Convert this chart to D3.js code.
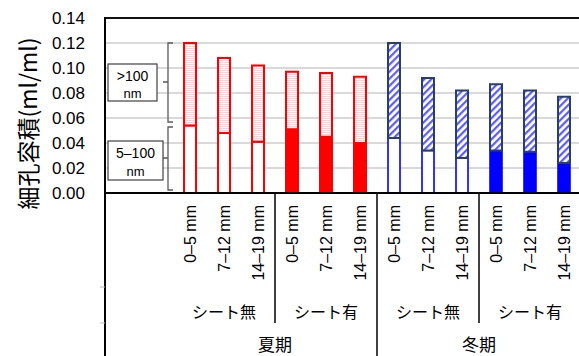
<!DOCTYPE html>
<html><head><meta charset="utf-8">
<script src="https://cdn.jsdelivr.net/npm/d3@7"></script>
<style>body{margin:0;background:#fff}svg{display:block}</style>
</head><body>
<svg id="c" width="579" height="356"></svg>
<script>
// ---- data ----
const depths = ["0–5 mm", "7–12 mm", "14–19 mm"];
const sheets = ["シート無", "シート有"];
const seasons = ["夏期", "冬期"];
const fine   = [0.054, 0.048, 0.041, 0.051, 0.045, 0.040, 0.044, 0.034, 0.028, 0.034, 0.033, 0.024]; // 5–100 nm
const coarse = [0.066, 0.060, 0.061, 0.046, 0.051, 0.053, 0.076, 0.058, 0.054, 0.053, 0.049, 0.053]; // >100 nm
const yTicks = [0, 0.02, 0.04, 0.06, 0.08, 0.10, 0.12, 0.14];
const yTitle = "細孔容積(ml/ml)";
const boxLabels = [[">100", "nm"], ["5–100", "nm"]];

// build bar records
const bars = [];
seasons.forEach((s, si) => sheets.forEach((sh, hi) => depths.forEach((d, di) => {
  const i = bars.length;
  bars.push({id: "b" + i, season: s, si, sheet: sh, hi, depth: d, fine: fine[i], coarse: coarse[i]});
})));
const cats = ["_blank0", "_blank1"].concat(bars.map(b => b.id));

const svg = d3.select("#c");
const L = 105, T = 18, B = 193;
const x = d3.scaleBand().domain(cats).range([L, L + 34 * cats.length]).padding(0);
const y = d3.scaleLinear().domain([0, 0.14]).range([B, T]);
const bw = x.bandwidth();

const latin = "'Liberation Sans', Arial, sans-serif";
const cjk = "'Noto Sans CJK JP', sans-serif";

// patterns
const defs = svg.append("defs");
const ph = defs.append("pattern").attr("id", "hpink").attr("patternUnits", "userSpaceOnUse")
  .attr("width", 4).attr("height", 2);
ph.append("rect").attr("width", 4).attr("height", 2).attr("fill", "#fff");
ph.append("rect").attr("width", 4).attr("height", 1).attr("fill", "#ffcfcf");
const pd = defs.append("pattern").attr("id", "dblue").attr("patternUnits", "userSpaceOnUse")
  .attr("width", 5).attr("height", 5).attr("patternTransform", "rotate(45)");
pd.append("rect").attr("width", 5).attr("height", 5).attr("fill", "#fff");
pd.append("rect").attr("width", 2.2).attr("height", 5).attr("fill", "#5a5aff");

// gridlines
svg.append("g").selectAll("line").data(yTicks.filter(v => v > 0 && v < 0.14)).join("line")
  .attr("x1", L).attr("x2", 579).attr("y1", d => y(d)).attr("y2", d => y(d))
  .attr("stroke", "#d9d9d9").attr("stroke-width", 2);

// top border
svg.append("line").attr("x1", L).attr("x2", 579).attr("y1", y(0.14)).attr("y2", y(0.14))
  .attr("stroke", "#111").attr("stroke-width", 2);

// y tick labels
svg.append("g").selectAll("text").data(yTicks).join("text")
  .attr("x", 85).attr("y", d => y(d)).attr("dy", "0.36em").attr("text-anchor", "end")
  .attr("font-family", latin).attr("font-size", 17).attr("fill", "#000")
  .text(d => d.toFixed(2));

// y title
svg.append("text").attr("transform", `translate(29,${(T + B) / 2 + 18}) rotate(-90)`)
  .attr("text-anchor", "middle").attr("dy", "0.36em")
  .attr("font-family", cjk).attr("font-size", 23).attr("fill", "#000").text(yTitle);

// bars
const rw = 12;
const g = svg.append("g");
bars.forEach(b => {
  const cx = x(b.id) + bw / 2;
  const summer = b.si === 0;
  const col = summer ? "#ff0000" : "#0000ff";
  // lower (5-100 nm)
  g.append("rect").attr("x", cx - rw / 2).attr("width", rw)
    .attr("y", y(b.fine)).attr("height", y(0) - y(b.fine))
    .attr("fill", b.hi === 1 ? col : "#fff").attr("stroke", col).attr("stroke-width", summer ? 2 : 1.6);
  // upper (>100 nm)
  g.append("rect").attr("x", cx - rw / 2).attr("width", rw)
    .attr("y", y(b.fine + b.coarse)).attr("height", y(b.fine) - y(b.fine + b.coarse))
    .attr("fill", summer ? "url(#hpink)" : "url(#dblue)")
    .attr("stroke", summer ? "#ff0000" : "#2a3f66").attr("stroke-width", 2);
});

// x axis line
svg.append("line").attr("x1", L).attr("x2", 579).attr("y1", B).attr("y2", B)
  .attr("stroke", "#000").attr("stroke-width", 2);
// left axis line
svg.append("line").attr("x1", L).attr("x2", L).attr("y1", T - 1).attr("y2", 356)
  .attr("stroke", "#000").attr("stroke-width", 2);
// small gray marks left of the axis
svg.append("g").selectAll("line").data([287, 323]).join("line")
  .attr("x1", 100).attr("x2", L).attr("y1", d => d).attr("y2", d => d)
  .attr("stroke", "#bbb").attr("stroke-width", 1);

// depth labels
svg.append("g").selectAll("text").data(bars).join("text")
  .attr("transform", d => `translate(${x(d.id) + bw / 2},205) rotate(-90)`)
  .attr("text-anchor", "end").attr("dy", "0.36em")
  .attr("font-family", latin).attr("font-size", 16).attr("fill", "#000")
  .text(d => d.depth);

// group separators and labels
const groups = d3.groups(bars, b => b.si, b => b.hi);
groups.forEach(([si, sub], gi) => {
  const first = sub[0][1][0], last = sub[sub.length - 1][1];
  const sx0 = x(first.id), sx1 = x(last[last.length - 1].id) + bw;
  svg.append("text").attr("x", (sx0 + sx1) / 2).attr("y", 345).attr("dy", "0.36em")
    .attr("text-anchor", "middle").attr("font-family", cjk).attr("font-size", 17)
    .attr("fill", "#000").text(seasons[si]);
  if (gi > 0) svg.append("line").attr("x1", sx0).attr("x2", sx0).attr("y1", B).attr("y2", 356)
    .attr("stroke", "#000").attr("stroke-width", 1.5);
  sub.forEach(([hi, bs], k) => {
    const a0 = x(bs[0].id), a1 = x(bs[bs.length - 1].id) + bw;
    svg.append("text").attr("x", (a0 + a1) / 2).attr("y", 312).attr("dy", "0.36em")
      .attr("text-anchor", "middle").attr("font-family", cjk).attr("font-size", 16)
      .attr("fill", "#000").text(sheets[hi]);
    if (k > 0) svg.append("line").attr("x1", a0).attr("x2", a0).attr("y1", B).attr("y2", 323)
      .attr("stroke", "#000").attr("stroke-width", 1.5);
  });
});

// brackets
const bx = 168;
const brackets = [
  {top: y(fine[0] + coarse[0]), bottom: 122, mid: 82},
  {top: 127, bottom: 190, mid: 158}
];
brackets.forEach(br => {
  const p = d3.path();
  p.moveTo(bx + 5, br.top); p.lineTo(bx, br.top); p.lineTo(bx, br.bottom); p.lineTo(bx + 5, br.bottom);
  p.moveTo(bx, br.mid); p.lineTo(bx - 5, br.mid);
  svg.append("path").attr("d", p.toString()).attr("fill", "none")
    .attr("stroke", "#595959").attr("stroke-width", 1.3);
});
// label boxes
const boxes = [{x0: 108, x1: 157, y0: 64, y1: 101, b1: 81, b2: 98},
               {x0: 108, x1: 163, y0: 141, y1: 180, b1: 158, b2: 176}];
boxes.forEach((bx_, i) => {
  svg.append("rect").attr("x", bx_.x0).attr("y", bx_.y0).attr("width", bx_.x1 - bx_.x0)
    .attr("height", bx_.y1 - bx_.y0).attr("fill", "#fff").attr("stroke", "#404040").attr("stroke-width", 1.2);
  const cx = (bx_.x0 + bx_.x1) / 2;
  svg.append("text").attr("x", cx).attr("y", bx_.b1).attr("text-anchor", "middle")
    .attr("font-family", latin).attr("font-size", 14).attr("fill", "#000").text(boxLabels[i][0]);
  svg.append("text").attr("x", cx).attr("y", bx_.b2).attr("text-anchor", "middle")
    .attr("font-family", latin).attr("font-size", 13).attr("fill", "#000").text(boxLabels[i][1]);
});
</script>
</body></html>
